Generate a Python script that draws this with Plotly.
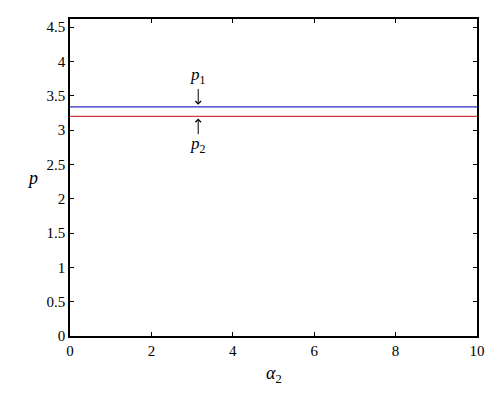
import plotly.graph_objects as go

# alpha_2 range and the two constant levels
alpha2 = [0, 10]
p1 = [3.34, 3.34]
p2 = [3.2, 3.2]
arrow_x = 3.15

xticks = [0, 2, 4, 6, 8, 10]
yticks = [0, 0.5, 1, 1.5, 2, 2.5, 3, 3.5, 4, 4.5]

serif = 'Liberation Serif'
font = dict(family=serif, size=15, color='black')

fig = go.Figure()
fig.add_trace(go.Scatter(x=alpha2, y=p1, mode='lines', line=dict(color='#2b2bc4', width=1.2), name='p1'))
fig.add_trace(go.Scatter(x=alpha2, y=p2, mode='lines', line=dict(color='#d23a3a', width=1.2), name='p2'))

# arrows pointing at the lines
fig.add_annotation(x=arrow_x, y=3.37, ax=arrow_x, ay=3.62, xref='x', yref='y', axref='x', ayref='y',
                   text='', showarrow=True, arrowhead=4, arrowsize=1.1, arrowwidth=1, arrowcolor='black')
fig.add_annotation(x=arrow_x, y=3.17, ax=arrow_x, ay=2.92, xref='x', yref='y', axref='x', ayref='y',
                   text='', showarrow=True, arrowhead=4, arrowsize=1.1, arrowwidth=1, arrowcolor='black')
fig.add_annotation(x=arrow_x, y=3.79, text='<i>p</i><sub>1</sub>', showarrow=False, font=dict(family=serif, size=17))
fig.add_annotation(x=arrow_x, y=2.78, text='<i>p</i><sub>2</sub>', showarrow=False, font=dict(family=serif, size=17))

# axis titles as annotations (y title is horizontal in the reference)
fig.add_annotation(x=-0.11, y=0.5, xref='paper', yref='paper', text='<i>p</i>', showarrow=False,
                   font=dict(family=serif, size=18))
fig.add_annotation(x=0.5, y=-0.165, xref='paper', yref='paper', text='<i>α</i><sub>2</sub>', showarrow=False,
                   font=dict(family=serif, size=18))

fig.update_layout(
    width=500, height=403,
    margin=dict(l=62, r=31, t=9, b=75),
    plot_bgcolor='white', paper_bgcolor='white',
    showlegend=False,
    font=font,
    xaxis=dict(range=[0, 10], tickvals=xticks, ticks='inside', ticklen=4, tickcolor='black',
               showline=True, linecolor='black', linewidth=1.5, mirror='ticks', showgrid=False, zeroline=False,
               tickfont=dict(family=serif, size=15)),
    yaxis=dict(range=[0, 4.62], tickvals=yticks, ticktext=[f'{v:g}' for v in yticks], ticks='inside', ticklen=4,
               tickcolor='black', showline=True, linecolor='black', linewidth=1.5, mirror='ticks',
               showgrid=False, zeroline=False, tickfont=dict(family=serif, size=15)),
)

fig.write_html('out.html')
